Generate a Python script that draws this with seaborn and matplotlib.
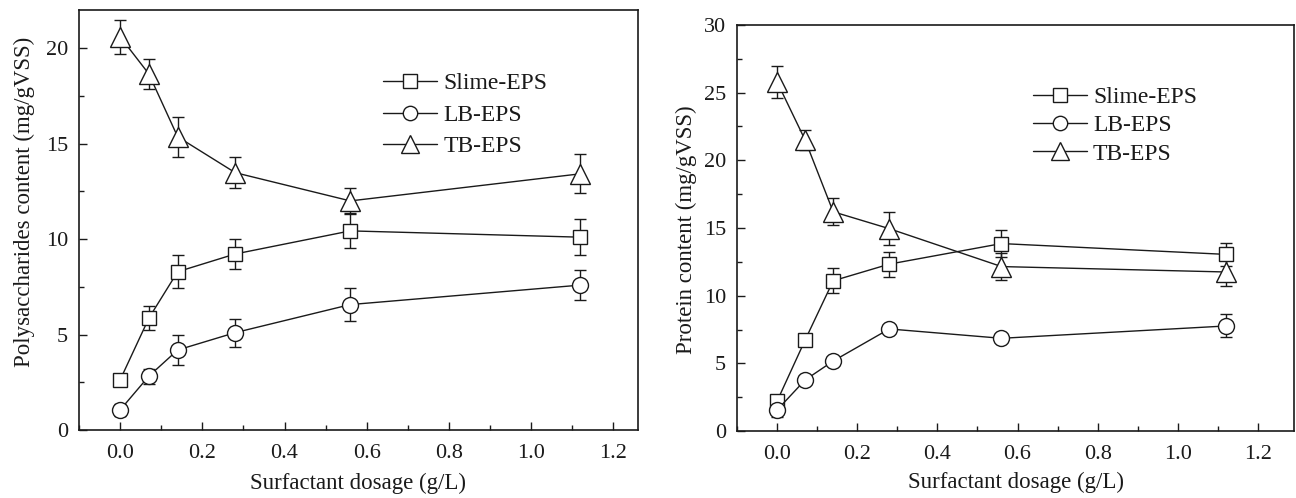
import numpy as np
import pandas as pd
import seaborn as sns
import matplotlib.pyplot as plt
from matplotlib.ticker import MultipleLocator

sns.set_theme(style="ticks")
plt.rcParams['font.family'] = ['Liberation Serif', 'DejaVu Serif']

# Surfactant dosage (g/L)
dosage = [0.0, 0.07, 0.14, 0.28, 0.56, 1.12]
series_names = ["Slime-EPS", "LB-EPS", "TB-EPS"]

# Polysaccharides content (mg/gVSS)
ps_slime = [2.62, 5.86, 8.29, 9.22, 10.43, 10.10]
ps_slime_err = [0.20, 0.62, 0.87, 0.81, 0.92, 0.94]
ps_lb = [1.05, 2.82, 4.19, 5.10, 6.57, 7.59]
ps_lb_err = [0.30, 0.40, 0.79, 0.74, 0.85, 0.79]
ps_tb = [20.6, 18.65, 15.36, 13.48, 12.0, 13.42]
ps_tb_err = [0.90, 0.77, 1.05, 0.83, 0.70, 1.03]

# Protein content (mg/gVSS)
pn_slime = [2.2, 6.72, 11.1, 12.33, 13.85, 13.05]
pn_slime_err = [0.30, 0.10, 0.92, 0.92, 1.00, 0.86]
pn_lb = [1.55, 3.77, 5.17, 7.54, 6.85, 7.76]
pn_lb_err = [0.50, 0.30, 0.30, 0.20, 0.20, 0.85]
pn_tb = [25.8, 21.5, 16.2, 14.95, 12.15, 11.75]
pn_tb_err = [1.16, 0.74, 1.00, 1.20, 1.00, 1.00]

x_ticks = [0.0, 0.2, 0.4, 0.6, 0.8, 1.0, 1.2]

marker_map = {"Slime-EPS": "s", "LB-EPS": "o", "TB-EPS": "^"}
size_map = {"Slime-EPS": 10.5, "LB-EPS": 11.5, "TB-EPS": 14}
ink = "#1a1a1a"
tick_fs = 16
label_fs = 16.5
legend_fs = 17


def make_frame(vals, errs):
    rows = []
    for name, v, e in zip(series_names, vals, errs):
        for x, y, d in zip(dosage, v, e):
            rows.append({"dosage": x, "value": y, "err": d, "series": name})
    return pd.DataFrame(rows)


def draw_panel(ax, df, ylim, xmax, ylabel, legend_anchor, labelspacing,
               ylabel_xy, xlabel_y):
    for name in series_names:
        sub = df[df["series"] == name]
        ax.errorbar(sub["dosage"], sub["value"], yerr=sub["err"], fmt="none",
                    ecolor=ink, elinewidth=1.0, capsize=4, capthick=1.0, zorder=2)
    sns.lineplot(data=df, x="dosage", y="value", style="series",
                 markers=marker_map, dashes=False, color=ink, ax=ax,
                 linewidth=1.0, legend=False, zorder=3)
    # open symbols
    for line, name in zip(ax.get_lines()[-3:], series_names):
        line.set_markerfacecolor("white")
        line.set_markeredgecolor(ink)
        line.set_markeredgewidth(1.0)
        line.set_markersize(size_map[name])
    handles = []
    for name in series_names:
        h, = ax.plot([], [], color=ink, linewidth=1.0, marker=marker_map[name],
                     markersize=size_map[name] * 0.9, markerfacecolor="white",
                     markeredgecolor=ink, markeredgewidth=1.0)
        handles.append(h)
    ax.legend(handles, series_names, loc="upper left", bbox_to_anchor=legend_anchor,
              frameon=False, handlelength=2.3, handletextpad=0.25,
              labelspacing=labelspacing, borderpad=0, borderaxespad=0,
              fontsize=legend_fs, labelcolor=ink)

    ax.set_xlim(-0.1, xmax)
    ax.set_ylim(*ylim)
    ax.xaxis.set_minor_locator(MultipleLocator(0.1))
    ax.yaxis.set_major_locator(MultipleLocator(5))
    ax.yaxis.set_minor_locator(MultipleLocator(2.5))
    ax.set_xticks(x_ticks)
    ax.set_xticklabels([f"{t:.1f}" for t in x_ticks])
    ax.tick_params(axis="both", which="major", direction="in", length=6,
                   width=1.0, color=ink, labelsize=tick_fs, labelcolor=ink)
    ax.tick_params(axis="x", which="major", pad=10)
    ax.tick_params(axis="y", which="major", pad=8)
    ax.tick_params(axis="both", which="minor", direction="in", length=3.5,
                   width=1.0, color=ink)
    ax.tick_params(top=False, right=False, which="both")
    for sp in ax.spines.values():
        sp.set_visible(True)
        sp.set_color(ink)
        sp.set_linewidth(1.2)
    ax.set_xlabel("Surfactant dosage (g/L)", fontsize=label_fs, color=ink)
    ax.set_ylabel(ylabel, fontsize=label_fs, color=ink)
    ax.xaxis.set_label_coords(0.5, xlabel_y)
    ax.yaxis.set_label_coords(*ylabel_xy)


fig = plt.figure(figsize=(12.96, 4.98), dpi=100)
ax1 = fig.add_axes([79 / 1296, 1 - 430 / 498, 559 / 1296, 420 / 498])
ax2 = fig.add_axes([737 / 1296, 1 - 431 / 498, 557 / 1296, 406 / 498])

df_ps = make_frame([ps_slime, ps_lb, ps_tb], [ps_slime_err, ps_lb_err, ps_tb_err])
df_pn = make_frame([pn_slime, pn_lb, pn_tb], [pn_slime_err, pn_lb_err, pn_tb_err])

draw_panel(ax1, df_ps, (0, 22), 1.26, "Polysaccharides content (mg/gVSS)",
           (0.544, 0.851), 0.43, (-0.078, 0.544), -0.102)
draw_panel(ax2, df_pn, (0, 30), 1.29, "Protein content (mg/gVSS)",
           (0.531, 0.848), 0.285, (-0.072, 0.496), -0.101)

fig.savefig("out.png", dpi=100, facecolor="white")
